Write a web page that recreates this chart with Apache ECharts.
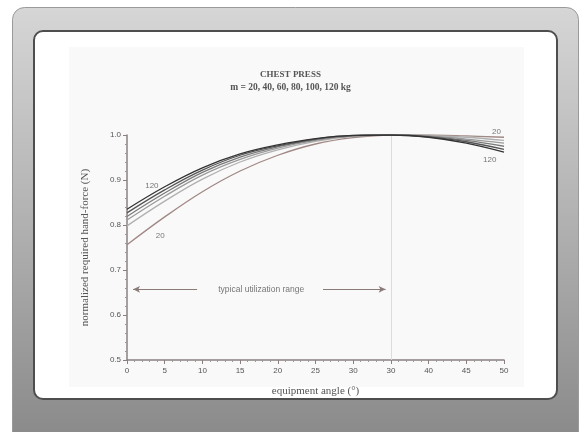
<!DOCTYPE html>
<html>
<head>
<meta charset="utf-8">
<script src="https://cdn.jsdelivr.net/npm/echarts@6/dist/echarts.min.js"></script>
<style>
html,body{margin:0;padding:0;background:#fff;}
#c{width:581px;height:432px;}
</style>
</head>
<body>
<div id="c"></div>
<script>
// ---- data ----
const angles = [0, 5, 10, 15, 20, 25, 30, 35, 40, 45, 50];
const xTickLabels = ['0', '5', '10', '15', '20', '25', '30', '30', '40', '45', '50'];
const masses = ['20', '40', '60', '80', '100', '120'];
const force20  = [0.756, 0.818, 0.874, 0.920, 0.955, 0.980, 0.994, 1.000, 1.000, 0.998, 0.995];
const force40  = [0.798, 0.853, 0.902, 0.940, 0.967, 0.986, 0.997, 1.000, 0.999, 0.995, 0.988];
const force60  = [0.811, 0.864, 0.911, 0.946, 0.971, 0.988, 0.998, 1.000, 0.998, 0.991, 0.982];
const force80  = [0.819, 0.871, 0.917, 0.951, 0.974, 0.990, 0.998, 1.000, 0.997, 0.988, 0.975];
const force100 = [0.827, 0.878, 0.922, 0.955, 0.976, 0.991, 0.999, 1.000, 0.996, 0.985, 0.968];
const force120 = [0.835, 0.885, 0.927, 0.958, 0.978, 0.992, 0.999, 1.000, 0.995, 0.982, 0.962];
const curveLabels = [
  { name: '120', value: [3.3, 0.888] },
  { name: '20', value: [4.4, 0.776] },
  { name: '20', value: [49.0, 1.007] },
  { name: '120', value: [48.1, 0.944] }
];
const rangeY = 0.657;
const rangeLeft = [0.8, 9.3];
const rangeRight = [26.0, 34.3];
const rangeText = { name: 'typical utilization range', value: [17.8, 0.657] };
const peakAngle = 35;

const allForces = [force20, force40, force60, force80, force100, force120];
const colors = ['#a08884', '#b0b0b0', '#9a9a9a', '#7a7a7a', '#555555', '#333333'];

const chart = echarts.init(document.getElementById('c'));
const serif = '"Liberation Serif", "DejaVu Serif", serif';
const sans = '"Liberation Sans", Arial, sans-serif';

const series = allForces.map((f, i) => ({
  type: 'line',
  name: masses[i],
  data: angles.map((a, j) => [a, f[j]]),
  smooth: 0.4,
  symbol: 'none',
  lineStyle: { color: colors[i], width: 1.3 },
  z: 3 + i
}));

series.push({
  type: 'scatter',
  data: curveLabels,
  symbolSize: 0,
  clip: false,
  label: { show: true, formatter: p => p.name, color: '#555', fontSize: 8, fontFamily: sans, position: 'inside' },
  silent: true,
  z: 10,
  markLine: {
    silent: true,
    animation: false,
    label: { show: false },
    lineStyle: { color: '#8a7a78', width: 1, type: 'solid' },
    symbolSize: [5, 7],
    data: [
      [{ coord: [rangeLeft[0], rangeY], symbol: 'arrow', symbolRotate: 90 }, { coord: [rangeLeft[1], rangeY], symbol: 'none' }],
      [{ coord: [rangeRight[0], rangeY], symbol: 'none' }, { coord: [rangeRight[1], rangeY], symbol: 'arrow' }]
    ]
  }
});

series.push({
  type: 'scatter',
  data: [rangeText],
  symbolSize: 0,
  clip: false,
  label: { show: true, formatter: p => p.name, color: '#555', fontSize: 8.5, fontFamily: sans, position: 'inside' },
  silent: true,
  z: 10,
  markLine: {
    silent: true,
    animation: false,
    symbol: 'none',
    label: { show: false },
    lineStyle: { color: '#dcdcdc', width: 1, type: 'solid' },
    data: [{ xAxis: peakAngle }]
  }
});

chart.setOption({
  animation: false,
  backgroundColor: '#ffffff',
  graphic: {
    elements: [
      { type: 'rect', z: -100, shape: { x: 12.5, y: 7.5, width: 566, height: 440, r: 12 },
        style: { fill: new echarts.graphic.LinearGradient(0, 0, 0, 1, [
          { offset: 0, color: '#d6d6d6' }, { offset: 0.5, color: '#b0b0b0' }, { offset: 1, color: '#888888' }]),
          stroke: '#9a9a9a', lineWidth: 1 } },
      { type: 'rect', z: -99, shape: { x: 34, y: 31, width: 523, height: 368, r: 9 },
        style: { fill: '#ffffff', stroke: '#4e4e4e', lineWidth: 2 } },
      { type: 'rect', z: -98, shape: { x: 69, y: 47, width: 455, height: 340 },
        style: { fill: '#f9f9f9' } }
    ]
  },
  title: {
    text: 'CHEST PRESS',
    subtext: 'm = 20, 40, 60, 80, 100, 120 kg',
    left: 'center',
    top: 65,
    itemGap: 4,
    textStyle: { fontFamily: serif, fontSize: 9, fontWeight: 'bold', color: '#555' },
    subtextStyle: { fontFamily: serif, fontSize: 9.5, fontWeight: 'bold', color: '#555' }
  },
  grid: { left: 127, right: 77, top: 135, bottom: 72, containLabel: false },
  xAxis: {
    type: 'value',
    min: 0, max: 50, interval: 5,
    name: 'equipment angle (°)',
    nameLocation: 'middle',
    nameGap: 26,
    nameTextStyle: { fontFamily: serif, fontSize: 11, color: '#555' },
    axisLine: { lineStyle: { color: '#8a8080', width: 1.5 } },
    axisTick: { length: 4, inside: false, lineStyle: { color: '#8a8080' } },
    minorTick: { show: true, splitNumber: 5, length: 2, lineStyle: { color: '#999' } },
    axisLabel: { fontFamily: sans, fontSize: 8, color: '#555', margin: 7,
      formatter: v => xTickLabels[angles.indexOf(v)] },
    splitLine: { show: false }
  },
  yAxis: {
    type: 'value',
    min: 0.5, max: 1.0, interval: 0.1,
    name: 'normalized required hand-force (N)',
    nameLocation: 'middle',
    nameGap: 36,
    nameTextStyle: { fontFamily: serif, fontSize: 11, color: '#555' },
    axisLine: { lineStyle: { color: '#8a8080', width: 1.5 } },
    axisTick: { length: 4, lineStyle: { color: '#8a8080' } },
    minorTick: { show: true, splitNumber: 5, length: 2, lineStyle: { color: '#999' } },
    axisLabel: { fontFamily: sans, fontSize: 8, color: '#555', margin: 6, formatter: v => v.toFixed(1) },
    splitLine: { show: false }
  },
  series: series
});
</script>
</body>
</html>
